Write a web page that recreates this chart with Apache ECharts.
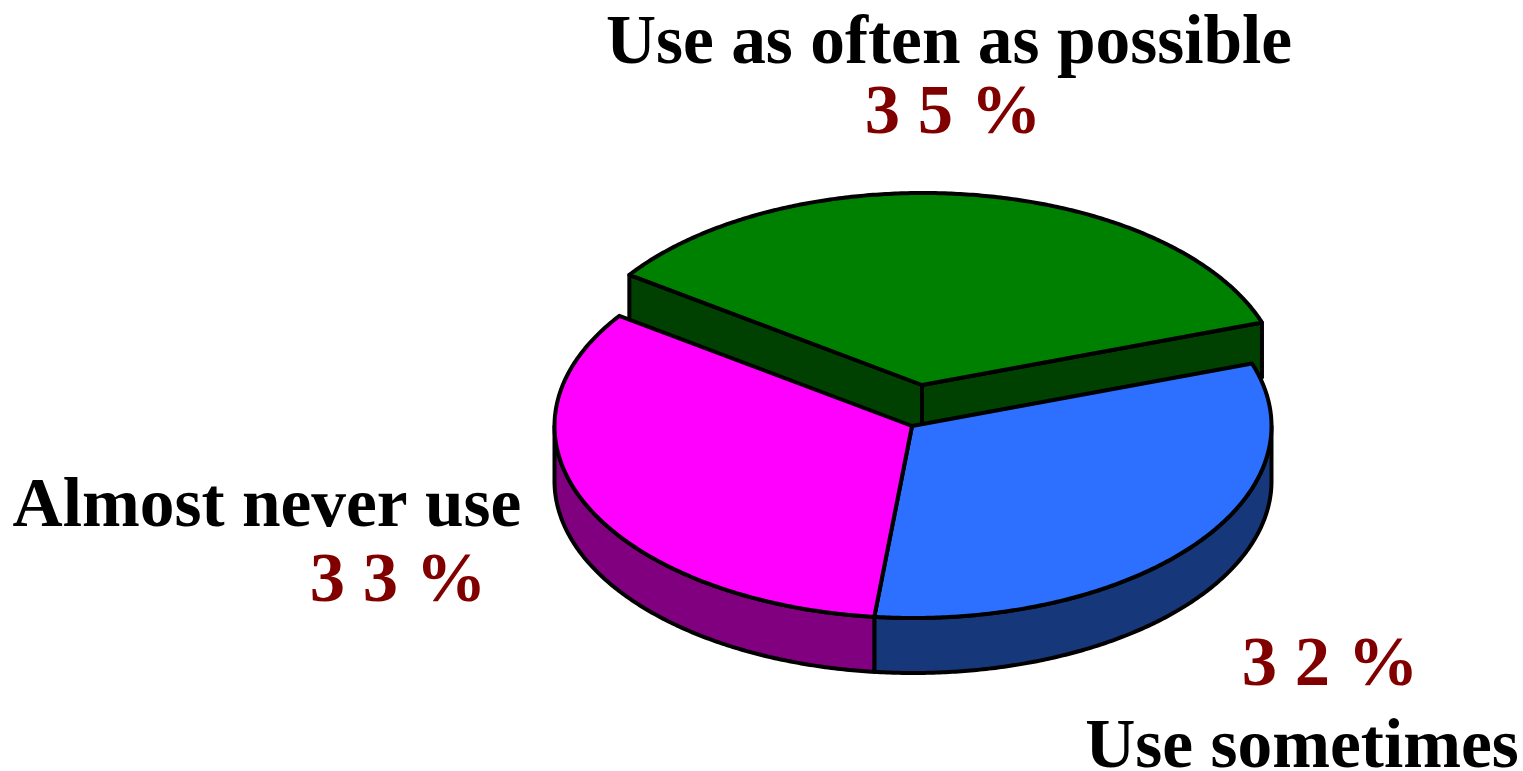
<!DOCTYPE html>
<html>
<head>
<meta charset="utf-8">
<style>html,body{margin:0;padding:0;background:#fff}#chart{width:1523px;height:771px}</style>
<script src="https://cdn.jsdelivr.net/npm/echarts@6/dist/echarts.min.js"></script>
</head>
<body>
<div id="chart"></div>
<script>
// Data, in clockwise drawing order from the start angle
var categories = ['Use as often as possible', 'Use sometimes', 'Almost never use'];
var shareValues = [35, 32, 33];

// Layout and style, kept separate from the data
var START_DEG = 145, RX = 358.5, RY = 192, DEPTH = 55, CX = 913, CY = 426;
var offsets = [[10, -41], [0, 0], [0, 0]];
var topColors = ['#008000', '#2d70ff', '#ff00ff'];
var wallColors = ['#004000', '#16387b', '#800080'];
var labelPos = [
  {name: [949, 45], pct: [953, 115]},
  {name: [1302, 749], pct: [1330, 667]},
  {name: [267, 508], pct: [398, 583]}
];
var NAME_FONT = 'bold 69.4px "Liberation Serif", "Times New Roman", serif';
var PCT_FONT = 'bold 70.6px "Liberation Serif", "Times New Roman", serif';

var total = shareValues.reduce(function (a, b) { return a + b; }, 0);

function pt(cx, cy, deg) {
  var r = deg * Math.PI / 180;
  return [cx + RX * Math.cos(r), cy - RY * Math.sin(r)];
}
function arc(cx, cy, from, to) {
  var pts = [], n = Math.max(2, Math.ceil(Math.abs(from - to) * 2));
  for (var i = 0; i <= n; i++) pts.push(pt(cx, cy, from + (to - from) * i / n));
  return pts;
}
function drop(p) { return [p[0], p[1] + DEPTH]; }
function poly(points, fill) {
  return {
    type: 'polygon',
    shape: {points: points},
    style: {fill: fill, stroke: '#000', lineWidth: 4, lineJoin: 'round'}
  };
}
function renderSlice(params, api) {
  var i = params.dataIndex, before = 0;
  for (var k = 0; k < i; k++) before += shareValues[k];
  var a0 = START_DEG - before / total * 360;
  var a1 = a0 - api.value(0) / total * 360;
  var cx = CX + offsets[i][0], cy = CY + offsets[i][1];
  var apex = [cx - 1, cy], p0 = pt(cx, cy, a0), p1 = pt(cx, cy, a1);
  var kids = [];
  // radial faces of the pulled-out slice
  if (offsets[i][0] || offsets[i][1]) {
    kids.push(poly([p0, apex, drop(apex), drop(p0)], wallColors[i]));
    kids.push(poly([apex, p1, drop(p1), drop(apex)], wallColors[i]));
  }
  // outer wall: only the part on the front half of the ellipse
  var w0 = Math.min(a0, 0), w1 = Math.max(a1, -180);
  if (w0 > w1) {
    var topArc = arc(cx, cy, w0, w1);
    kids.push(poly(topArc.concat(topArc.slice().reverse().map(drop)), wallColors[i]));
  }
  kids.push(poly([apex].concat(arc(cx, cy, a0, a1)), topColors[i]));
  // labels
  var lp = labelPos[i];
  kids.push({
    type: 'text',
    style: {text: categories[i], x: lp.name[0], y: lp.name[1], align: 'center',
      verticalAlign: 'middle', font: NAME_FONT, fill: '#000'}
  });
  kids.push({
    type: 'text',
    style: {text: String(api.value(0)).split('').join(' ') + ' %', x: lp.pct[0], y: lp.pct[1],
      align: 'center', verticalAlign: 'middle', font: PCT_FONT, fill: '#800000'}
  });
  return {type: 'group', children: kids};
}

var chart = echarts.init(document.getElementById('chart'), null, {renderer: 'canvas'});
chart.setOption({
  animation: false,
  backgroundColor: '#ffffff',
  series: [{
    type: 'custom',
    coordinateSystem: 'none',
    renderItem: renderSlice,
    encode: {value: 0},
    data: shareValues.map(function (v, i) { return {name: categories[i], value: [v]}; })
  }]
});
</script>
</body>
</html>
